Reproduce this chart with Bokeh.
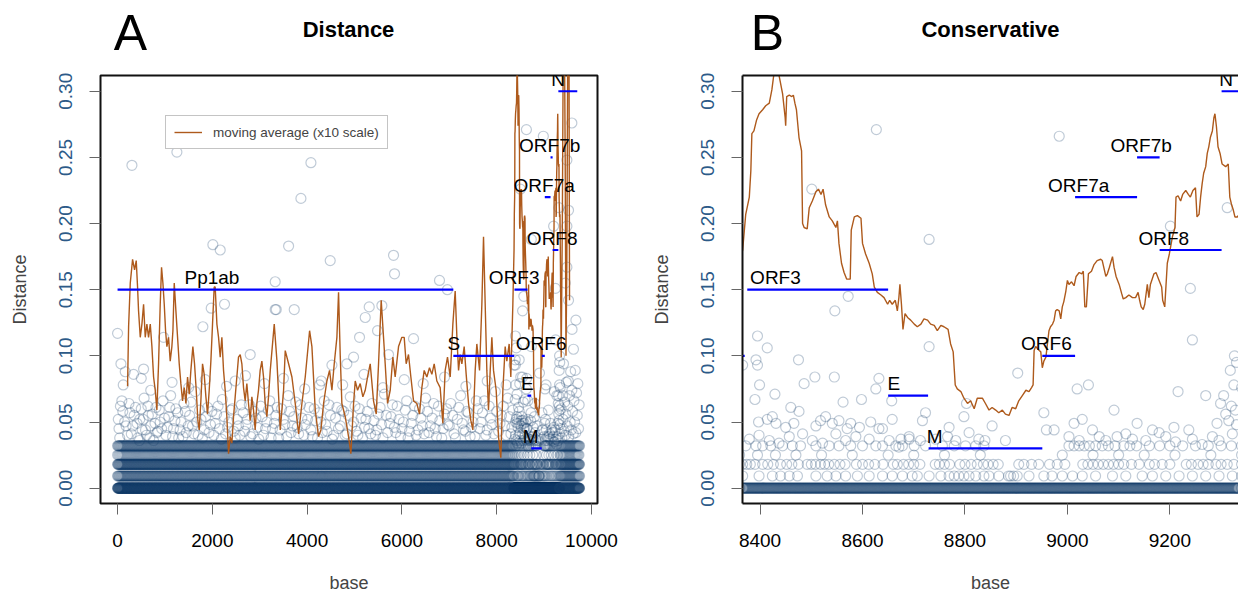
import numpy as np
from bokeh.plotting import figure
from bokeh.models import (Range1d, Legend, LegendItem, LinearAxis,
                          FixedTicker, PrintfTickFormatter)
from bokeh.layouts import row, column
from bokeh.embed import file_html
from bokeh.resources import INLINE
from bokeh.core.properties import value

FONT = "Liberation Sans"

# ---------------- data ----------------
gene_names = ["Pp1ab", "S", "ORF3", "E", "M", "ORF6", "ORF7a", "ORF7b", "ORF8", "N"]
gene_start = [0, 7085, 8375, 8650, 8729, 8951, 9015, 9136, 9180, 9301]
gene_end = [7085, 8370, 8650, 8728, 8951, 9015, 9136, 9180, 9301, 9700]
gene_level = [0.15, 0.10, 0.15, 0.07, 0.03, 0.10, 0.22, 0.25, 0.18, 0.30]
label_x_A = [1992, 7093, 8369, 8644, 8717, 8938, 9002, 9118, 9171, 9297]
label_x_B = [1992, 7093, 8430, 8661, 8741, 8959, 9022, 9144, 9188, 9310]

# moving average (x10 scale)
ma_base = [211, 233, 268, 317, 359, 394, 422, 443, 479, 514, 549, 584, 619, 654, 690, 725, 760, 795, 830, 865,
           900, 928, 957, 985, 1013, 1041, 1076, 1111, 1146, 1168, 1196, 1231, 1266, 1301, 1336, 1371, 1407, 1442,
           1477, 1512, 1547, 1589, 1624, 1660, 1695, 1723, 1758, 1793, 1828, 1864, 1899, 1934, 1969, 2004, 2039,
           2060, 2096, 2131, 2166, 2201, 2236, 2271, 2306, 2342, 2377, 2412, 2447, 2482, 2517, 2552, 2588, 2623,
           2658, 2693, 2728, 2763, 2798, 2834, 2869, 2904, 2939, 2974, 3009, 3045, 3080, 3115, 3150, 3185,
           3222, 3306, 3363, 3433, 3503, 3538, 3609, 3679, 3749, 3820, 3890, 3960, 4052, 4101, 4171, 4241, 4291,
           4347, 4417, 4473, 4523, 4572, 4628, 4663, 4698, 4733, 4804, 4874, 4923, 4980, 5015, 5064, 5120, 5176,
           5226, 5275, 5331, 5401, 5458, 5507, 5563, 5612, 5647, 5697, 5753, 5809, 5858, 5929, 5999, 6048, 6090,
           6139, 6189, 6245, 6315, 6371, 6421, 6470, 6526, 6582, 6632, 6681, 6737, 6807, 6864, 6913, 6962,
           7019, 7075, 7124, 7160, 7195, 7230, 7265, 7314, 7356, 7406, 7455, 7497, 7546, 7581, 7638, 7687, 7722,
           7757, 7792, 7827, 7863, 7898, 7933, 7989, 8038, 8087, 8130, 8179, 8214, 8263, 8298, 8341,
           8366, 8372, 8379, 8382, 8384, 8388, 8393, 8398, 8405, 8411, 8418, 8423, 8427, 8434, 8439, 8444, 8449,
           8450, 8452, 8457, 8462, 8465, 8468, 8471, 8476, 8481, 8483, 8486, 8492, 8496, 8502, 8509, 8514, 8519,
           8523, 8528, 8535, 8541, 8548, 8551, 8554, 8559, 8564, 8569, 8576, 8578, 8584, 8590, 8597, 8600, 8606,
           8613, 8619, 8623, 8629, 8636, 8642, 8649, 8653, 8658, 8664, 8668, 8671, 8673, 8676, 8679, 8683, 8688,
           8694, 8701, 8707, 8714, 8720, 8727, 8733, 8740, 8746, 8753, 8759, 8767, 8772, 8777, 8781, 8785, 8792,
           8798, 8805, 8811, 8818, 8824, 8834, 8840, 8847, 8853, 8860, 8866, 8873, 8879, 8886, 8892, 8899, 8905,
           8912, 8919, 8925, 8930, 8933, 8935, 8938, 8945, 8948, 8951, 8954, 8958, 8961, 8964, 8967, 8971, 8974,
           8977, 8980, 8984, 8987, 8990, 8993, 8997, 9000, 9003, 9008, 9013, 9017, 9023, 9028, 9031, 9034, 9037,
           9041, 9047, 9052, 9058, 9065, 9068, 9075, 9078, 9082, 9088, 9091, 9095, 9101, 9106, 9109, 9114, 9120,
           9127, 9133, 9138, 9141, 9144, 9148, 9151, 9156, 9159, 9162, 9169, 9173, 9179, 9184, 9186, 9190, 9195,
           9199, 9205, 9210, 9212, 9216, 9221, 9225, 9231, 9236, 9240, 9245, 9250, 9253, 9257, 9260, 9263, 9266,
           9270, 9273, 9276, 9279, 9283, 9286, 9288, 9291, 9294, 9298, 9302, 9309, 9314, 9317, 9320, 9324, 9327,
           9332, 9335, 9345, 9361, 9385, 9405, 9430, 9445, 9462, 9480, 9500, 9525, 9537]
ma_dist = [.077, .122, .155, .173, .165, .172, .152, .134, .114, .124, .139, .114, .124, .114, .124, .107, .084, .074, .059, .094,
           .139, .167, .155, .139, .119, .107, .114, .096, .107, .119, .155, .134, .114, .094, .079, .066, .076, .064,
           .084, .071, .089, .107, .094, .074, .051, .044, .066, .094, .086, .069, .056, .074, .096, .124, .152,
           .152, .124, .114, .099, .114, .089, .074, .054, .026, .039, .034, .054, .069, .084, .099, .101, .094,
           .076, .066, .079, .064, .051, .069, .059, .044, .064, .074, .089, .096, .084, .064, .054, .069,
           .089, .124, .096, .044, .074, .104, .094, .084, .064, .041, .064, .084, .119, .107, .059, .039, .044,
           .064, .081, .089, .074, .094, .114, .148, .101, .064, .054, .039, .026, .064, .081, .074, .079, .069,
           .074, .084, .094, .066, .056, .094, .142, .114, .094, .064, .074, .099, .084, .107, .114, .114, .094,
           .101, .084, .066, .064, .056, .076, .089, .084, .091, .086, .094, .081, .076, .049, .089, .099,
           .084, .124, .149, .114, .089, .101, .094, .107, .086, .064, .051, .044, .089, .109, .089, .139, .190,
           .139, .089, .059, .089, .114, .089, .074, .039, .023, .074, .107, .096, .109, .084, .139,
           .180, .207, .220, .240, .268, .270, .278, .283, .286, .289, .291, .301, .313, .318, .308, .298, .280,
           .274, .296, .297, .296, .297, .291, .286, .265, .255, .200, .197, .196, .212, .217, .224, .226, .222,
           .226, .214, .205, .202, .197, .202, .185, .170, .163, .158, .158, .195, .205, .206, .204, .185, .177,
           .170, .162, .152, .148, .146, .144, .139, .142, .139, .142, .134, .144, .154, .139, .120, .132, .129,
           .127, .124, .122, .124, .128, .127, .124, .123, .119, .123, .122, .120, .109, .103, .078, .075, .073,
           .068, .064, .066, .060, .068, .068, .064, .059, .061, .059, .057, .059, .056, .055, .061, .060, .066,
           .070, .074, .073, .076, .078, .104, .107, .104, .103, .091, .096, .099, .109, .119, .122, .124, .127,
           .134, .135, .134, .128, .137, .141, .149, .157, .154, .156, .153, .160, .163, .162, .164, .137, .137,
           .162, .164, .169, .172, .173, .172, .160, .162, .167, .175, .167, .160, .154, .147, .143, .144, .146,
           .144, .144, .148, .142, .137, .135, .139, .154, .144, .154, .162, .163, .157, .152, .142, .137, .170,
           .177, .190, .197, .220, .221, .217, .222, .225, .222, .220, .225, .227, .205, .207, .220, .230, .238,
           .243, .253, .258, .265, .270, .280, .283, .273, .258, .253, .245, .243, .245, .220, .215, .210, .205,
           .205, .207, .170, .099, .200, .340, .340, .250, .100, .170, .340, .340, .142]

# per-site distances sit on a few discrete levels (heavy rows of panel A)
row_levels = [0.0, 0.0092, 0.0180, 0.0250, 0.0320]
# spans (first base, last base, spacing of the sites read as sitting on the row)
row_spans = [
    [(0, 8360, 4), (8366, 9334, 1), (9340, 9750, 4)],
    [(0, 8360, 12), (9340, 9750, 12)],
    [(0, 8360, 8), (9340, 9750, 8)],
    [(0, 8360, 20), (9340, 9750, 18)],
    [(0, 8360, 12), (9340, 9750, 12)],
]
# the same rows inside the window of panel B, site by site
b_row_0092 = [8366, 8398, 8424, 8440, 8457, 8473, 8509, 8531, 8548, 8567, 8590, 8613, 8639, 8658, 8678, 8697,
              8707, 8730, 8753, 8769, 8779, 8788, 8798, 8808, 8821, 8837, 8847, 8866, 8885, 8889, 8895, 8902,
              8925, 8954, 8970, 8990, 9010, 9029, 9055, 9088, 9114, 9146, 9166, 9192, 9218, 9244, 9270, 9296, 9322]
b_row_0180 = [8366, 8374, 8381, 8390, 8405, 8415, 8426, 8440, 8452, 8462, 8475, 8492, 8500, 8508, 8518, 8526,
              8534, 8545, 8556, 8566, 8588, 8600, 8612, 8624, 8640, 8660, 8668, 8680, 8690, 8700, 8712, 8742,
              8750, 8760, 8770, 8790, 8800, 8812, 8824, 8836, 8845, 8855, 8865, 8905, 8915, 8930, 8944, 8965,
              8980, 8995, 9030, 9040, 9050, 9060, 9070, 9080, 9090, 9100, 9110, 9125, 9140, 9160, 9170, 9185,
              9200, 9232, 9242, 9255, 9265, 9275, 9290, 9300, 9312, 9325]
b_row_0250 = [8395, 8430, 8470, 8520, 8580, 8650, 8700, 8760, 8830, 8990, 9050, 9100, 9150, 9210, 9280]
b_row_0320 = [8372, 8392, 8405, 8421, 8444, 8463, 8479, 8509, 8535, 8554, 8577, 8600, 8626, 8639, 8665, 8678,
              8701, 8723, 8756, 8779, 8801, 8821, 8837, 9003, 9013, 9023, 9033, 9043, 9055, 9068, 9080, 9093,
              9110, 9122, 9135, 9160, 9180, 9200, 9225, 9250, 9275, 9300, 9320]

# scattered sites (base, distance): outliers of panel A
out_base = [303, 1252, 2011, 2166, 3326, 3326, 1976, 2257, 1800, 0, 2799, 71, 162, 338, 549, 971, 2482,
            4080, 3869, 3609, 4487, 5823, 5844, 6793, 3349, 3728, 5310, 5226, 5577, 5106, 5486, 6245, 4523,
            4839, 4980, 4262, 5718, 6960,
            9586, 9481, 9516, 9481, 9481, 9446, 9671, 9516, 9590, 9620,
            120, 500, 700, 1150, 1500, 1850, 2300, 2700, 3100, 3500, 3950, 4300, 4750, 5200, 5600, 6050,
            6450, 6900, 7350, 7800, 8200]
out_dist = [.244, .254, .184, .180, .156, .135, .136, .139, .122, .117, .101, .094, .088, .086, .090, .114, .081,
            .246, .219, .183, .172, .176, .162, .157, .135, .135, .137, .129, .138, .114, .119, .113, .093,
            .094, .099, .078, .101, .150,
            .276, .248, .210, .198, .167, .155, .127, .142, .120, .105,
            .078, .083, .074, .080, .076, .082, .077, .085, .079, .083, .075, .081, .078, .086, .076, .082,
            .079, .084, .077, .081, .078]
# cloud of sites between the rows and ~0.08 in panel A
cloud_base = [30, 60, 90, 150, 210, 260, 320, 380, 430, 470, 520, 560, 610, 650, 700, 760, 810, 850, 900, 960,
              1020, 1080, 1120, 1180, 1230, 1290, 1340, 1400, 1450, 1520, 1580, 1640, 1700, 1760, 1830, 1900, 1960,
              2030, 2090, 2150, 2210, 2280, 2350, 2420, 2480, 2550, 2610, 2680, 2740, 2810, 2880, 2950,
              3020, 3080, 3150, 3210, 3270, 3340, 3400, 3460, 3530, 3600, 3660, 3720, 3790, 3860, 3930,
              4010, 4080, 4150, 4220, 4290, 4360, 4420, 4490, 4560, 4630, 4700, 4770, 4840, 4910, 4980,
              5040, 5100, 5170, 5240, 5300, 5370, 5440, 5500, 5570, 5630, 5700, 5770, 5840, 5900, 5970,
              6030, 6100, 6160, 6230, 6300, 6370, 6430, 6500, 6570, 6640, 6700, 6770, 6840, 6900, 6970,
              7030, 7100, 7170, 7240, 7300, 7370, 7440, 7500, 7570, 7640, 7700, 7770, 7840, 7900, 7970,
              8040, 8100, 8170, 8230, 8300, 8340,
              15, 45, 110, 180, 240, 290, 350, 410, 460, 500, 540, 590, 640, 680, 730, 790, 830, 880, 930, 990,
              1050, 1100, 1160, 1210, 1270, 1320, 1380, 1430, 1490, 1550, 1610, 1670, 1730, 1790, 1860, 1930, 1990,
              2060, 2120, 2190, 2250, 2320, 2390, 2450, 2520, 2580, 2650, 2710, 2780, 2850, 2920, 2980,
              3050, 3120, 3180, 3240, 3310, 3370, 3430, 3500, 3570, 3630, 3690, 3760, 3820, 3890, 3960,
              4040, 4110, 4180, 4250, 4320, 4390, 4460, 4530, 4600, 4660, 4730, 4800, 4870, 4940,
              5010, 5070, 5140, 5210, 5270, 5340, 5410, 5470, 5540, 5600, 5670, 5740, 5800, 5870, 5940,
              6000, 6070, 6130, 6200, 6270, 6340, 6400, 6470, 6540, 6600, 6670, 6730, 6800, 6870, 6940,
              7000, 7070, 7130, 7200, 7270, 7340, 7400, 7470, 7540, 7600, 7670, 7740, 7800, 7870, 7940, 8000,
              8070, 8140, 8200, 8270, 8320,
              9340, 9350, 9360, 9375, 9390, 9400, 9410, 9420, 9435, 9450, 9460, 9470, 9485, 9500, 9510, 9520,
              9535, 9550, 9560, 9575, 9586, 9600, 9615, 9630, 9645, 9657, 9670, 9685, 9700, 9712, 9727, 9740]
cloud_dist = [.045, .062, .066, .050, .040, .057, .047, .061, .038, .052, .044, .068, .040, .055, .047, .036, .061, .043, .050, .066,
              .040, .054, .070, .045, .060, .038, .050, .064, .042, .055, .047, .073, .040, .052, .044, .061, .048,
              .040, .056, .045, .067, .041, .050, .060, .038, .047, .063, .043, .052, .039, .058, .046,
              .062, .040, .050, .066, .045, .055, .038, .060, .048, .070, .042, .054, .046, .063, .040,
              .052, .044, .060, .038, .050, .066, .043, .055, .040, .061, .047, .058, .041, .069, .050,
              .043, .060, .038, .052, .045, .064, .040, .056, .048, .071, .042, .054, .046, .062, .039,
              .050, .066, .043, .055, .040, .060, .047, .068, .042, .053, .045, .062, .038, .056, .048,
              .064, .041, .052, .070, .044, .058, .039, .050, .066, .045, .057, .040, .062, .048, .073,
              .043, .055, .047, .068, .041, .059,
              .052, .038, .058, .047, .064, .041, .055, .049, .036, .060, .052, .044, .062, .038, .056, .049, .042, .059, .045, .053,
              .046, .061, .039, .051, .057, .044, .039, .058, .047, .065, .041, .050, .059, .038, .054, .042, .058,
              .049, .062, .037, .054, .046, .059, .043, .052, .040, .057, .048, .063, .041, .053, .037,
              .054, .045, .059, .038, .049, .061, .044, .052, .039, .058, .047, .065, .041, .053, .048,
              .061, .039, .051, .057, .042, .048, .063, .037, .053, .045, .059, .040, .055, .047,
              .062, .040, .053, .046, .058, .041, .051, .044, .061, .038, .055, .049, .063, .042, .052,
              .045, .059, .038, .049, .062, .044, .053, .041, .058, .047, .064, .039, .051, .045, .060,
              .047, .055, .038, .061, .049, .043, .057, .046, .039, .060, .050, .066, .044, .053, .041, .058,
              .049, .062, .040, .054, .046,
              .076, .045, .060, .038, .070, .052, .094, .043, .065, .040, .056, .080, .047, .062, .081, .039,
              .070, .050, .088, .044, .074, .058, .041, .066, .050, .089, .042, .072, .055, .079, .045, .063]
# sites inside the panel B window
b_base = [8627, 8730, 8501, 8572, 8546, 8395, 8414, 8392, 8395, 8366, 8475, 8730, 8399, 8390, 8429, 8486,
          8507, 8545, 8562, 8598, 8632, 8626, 8657, 8723, 8717, 8798, 8803, 8769, 8460, 8476, 8397, 8414,
          8424, 8431, 8450, 8466, 8509, 8518, 8528, 8541, 8554, 8570, 8577, 8594, 8616, 8639, 8658, 8691,
          8675, 8379, 8398, 8418, 8437, 8457, 8483, 8502, 8522, 8548, 8567, 8587, 8613, 8632, 8652, 8671,
          8691, 8713, 8743, 8766, 8782, 8808, 8827, 8839,
          8984, 9312, 9201, 9240, 9244, 8903, 9019, 9041, 9216, 9270, 9318, 9325, 8954, 8959, 8974, 9013,
          9029, 9091, 9136, 9166, 9179, 9208, 9237, 9292, 9315, 9328, 9299, 9309, 8853, 8879, 9003, 9023,
          9049, 9062, 9075, 9097, 9114, 9127, 9153, 9192, 9211, 9244, 9263, 9283, 9296, 9322,
          9330, 9320, 9305, 9330, 9326]
b_dist = [.271, .188, .226, .145, .134, .115, .106, .097, .093, .093, .097, .107, .078, .067, .071, .079,
          .084, .084, .065, .067, .083, .075, .066, .057, .051, .054, .064, .046, .061, .058, .050, .052,
          .054, .049, .046, .049, .047, .051, .054, .049, .051, .045, .049, .046, .050, .045, .052, .039,
          .037, .037, .040, .036, .034, .039, .041, .036, .034, .041, .036, .039, .037, .045, .036, .031,
          .037, .036, .037, .039, .036, .042, .037, .036,
          .266, .212, .198, .151, .112, .087, .075, .078, .073, .070, .089, .078, .057, .044, .044, .049,
          .052, .059, .049, .044, .042, .046, .044, .049, .051, .059, .064, .056, .047, .036, .039, .036,
          .044, .039, .036, .039, .041, .037, .036, .039, .035, .037, .033, .039, .036, .041,
          .095, .062, .070, .048, .100]

# ---------------- assemble per-site arrays ----------------
site_x, site_y = [], []
for lev, spans in zip(row_levels, row_spans):
    for a, b, step in spans:
        xs = np.arange(a, b + 1, step)
        site_x.extend(xs.tolist())
        site_y.extend([lev] * len(xs))
for lev, xs in zip(row_levels[1:5], [b_row_0092, b_row_0180, b_row_0250, b_row_0320]):
    site_x.extend(xs)
    site_y.extend([lev] * len(xs))
for bx, by in ((out_base, out_dist), (cloud_base, cloud_dist), (b_base, b_dist)):
    site_x.extend(bx)
    site_y.extend(by)

PT = "#173F6B"
BROWN = "#AE5A1C"
YLAB = "#2C5A88"
HEAD = 60
H = 595 - HEAD


def header(w, letter, letter_x, title, title_x):
    h = figure(width=w, height=HEAD, x_range=Range1d(0, w), y_range=Range1d(0, HEAD),
               output_backend="svg", toolbar_location=None, x_axis_type=None, y_axis_type=None,
               min_border=0, outline_line_color=None)
    h.grid.visible = False
    h.text(x=[letter_x], y=[HEAD - 32], text=[letter], text_align="center", text_baseline="alphabetic",
           text_font=value(FONT), text_font_size="50px", text_color="black")
    h.text(x=[title_x], y=[HEAD - 29], text=[title], text_align="center", text_baseline="alphabetic",
           text_font=value(FONT), text_font_size="22px", text_font_style="bold", text_color="black")
    return h


def make_fig(xr, w, left, right, xticks, outline=True):
    p = figure(width=w, height=H, x_range=Range1d(*xr), y_range=Range1d(-0.0116, 0.3119),
               output_backend="svg", toolbar_location=None,
               min_border_left=left, min_border_right=right, min_border_top=75 - HEAD, min_border_bottom=92)
    p.grid.visible = False
    p.background_fill_color = "white"
    p.border_fill_color = "white"
    p.xaxis.ticker = FixedTicker(ticks=xticks)
    p.yaxis.ticker = FixedTicker(ticks=[0, 0.05, 0.10, 0.15, 0.20, 0.25, 0.30])
    p.yaxis.formatter = PrintfTickFormatter(format="%.2f")
    for ax in (p.xaxis[0], p.yaxis[0]):
        ax.major_tick_in = 0
        ax.major_tick_out = 11
        ax.major_tick_line_color = "#666666"
        ax.minor_tick_line_color = None
        ax.major_label_text_font = FONT
        ax.major_label_text_font_size = "19px"
        ax.axis_label_text_font = FONT
        ax.axis_label_text_font_size = "18px"
        ax.axis_label_text_font_style = "normal"
        if outline:
            ax.axis_line_color = None
        else:
            ax.axis_line_color = "#111111"
            ax.axis_line_width = 2
    p.xaxis.major_label_standoff = 19
    p.xaxis.axis_label_standoff = 23
    p.yaxis.major_label_standoff = 17
    p.yaxis.axis_label_standoff = 27
    p.yaxis.major_label_orientation = "vertical"
    p.yaxis.major_label_text_color = YLAB
    p.xaxis.major_label_text_color = "black"
    p.xaxis.axis_label = "base"
    p.yaxis.axis_label = "Distance"
    if outline:
        p.outline_line_color = "#111111"
        p.outline_line_width = 2
    else:
        p.outline_line_color = None
        top = LinearAxis(ticker=FixedTicker(ticks=[]), axis_line_color="#111111", axis_line_width=2,
                         major_tick_line_color=None, minor_tick_line_color=None,
                         major_label_text_font_size="0px", major_label_standoff=0)
        p.add_layout(top, "above")

    p.scatter(site_x, site_y, marker="circle", size=10, fill_color=None,
              line_color=PT, line_alpha=0.27, line_width=1.2)
    ma = p.line(ma_base, ma_dist, line_color=BROWN, line_width=1.4)
    p.segment(x0=gene_start, y0=gene_level, x1=gene_end, y1=gene_level,
              line_color="#0000FF", line_width=2.2)
    return p, ma


hA = header(640, "A", 130, "Distance", 348)
hB = header(598, "B", 127, "Conservative", 350)

pA, maA = make_fig((-360, 10127), 640, 100, 43, [0, 2000, 4000, 6000, 8000, 10000])
pA.text(x=label_x_A, y=gene_level, text=gene_names, text_align="center", text_baseline="alphabetic",
        y_offset=-12, text_font=value(FONT), text_font_size="19px", text_color="black")
leg = Legend(items=[LegendItem(label="moving average (x10 scale)", renderers=[maA])],
             location=(65, 354), margin=0, padding=8, spacing=0,
             glyph_width=28, glyph_height=16, label_height=16, label_standoff=11,
             label_text_font=FONT, label_text_font_size="13.5px",
             border_line_color="#8A8A8A", border_line_width=1, background_fill_alpha=1.0)
pA.add_layout(leg)

pB, maB = make_fig((8365.7, 9334.0), 598, 102, 0, [8400, 8600, 8800, 9000, 9200, 9400], outline=False)
pB.text(x=label_x_B, y=gene_level, text=gene_names, text_align="center", text_baseline="alphabetic",
        y_offset=-12, text_font=value(FONT), text_font_size="19px", text_color="black")

layout = column(row(hA, hB), row(pA, pB))
open("out.html", "w").write(file_html(layout, INLINE))
